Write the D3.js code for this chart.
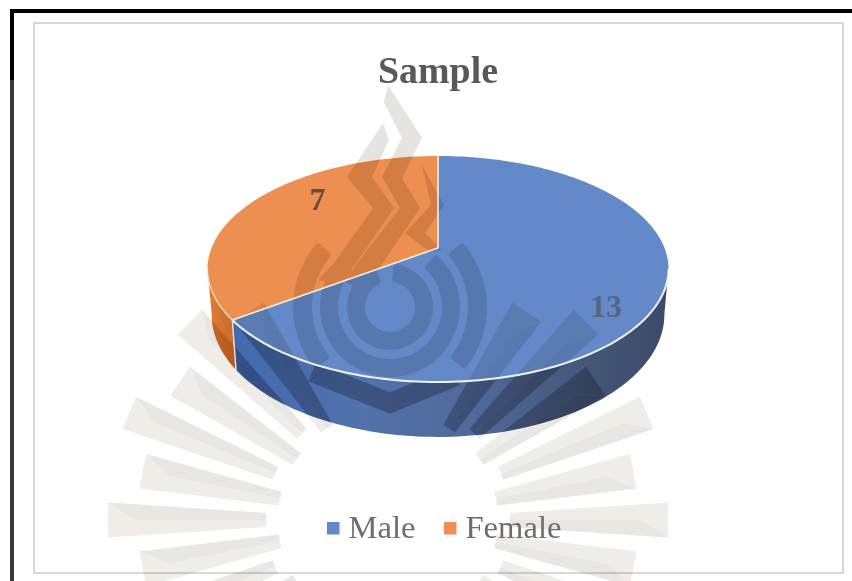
<!DOCTYPE html>
<html>
<head>
<meta charset="utf-8">
<script src="https://cdn.jsdelivr.net/npm/d3@7"></script>
<style>
  html, body { margin: 0; padding: 0; background: #fff; }
  svg { display: block; }
  text { font-family: "Liberation Serif", "Times New Roman", serif; }
</style>
</head>
<body>
<svg id="chart" width="852" height="581"></svg>
<script>
// Chart data
const categories = ["Male", "Female"];
const sampleCounts = [13, 7];
const chartTitle = "Sample";
const topColors = ["#6389c9", "#ec8f51"];

// 3D disc layout: each rim is a circle seen through a perspective divide
const topRim = { cx: 438, cy: 248, a: 226.5, b: 109.1, k: 0.1858 };
const baseRim = { cx: 438, cy: 292, a: 222.4, b: 118, k: 0.1858 };
const silhouette = Math.acos(-topRim.k); // angle where the rim is widest
const labelRadius = [0.83, 0.76];
const labelTurn = [0.15, 0.23];

const svg = d3.select("#chart");
const defs = svg.append("defs");

const project = (rim, t) => {
  const u = Math.sin(t), v = -Math.cos(t), w = 1 - rim.k * v;
  return [rim.cx + rim.a * u / w, rim.cy + rim.b * v / w];
};
const sweep = (rim, from, to) => {
  const n = Math.max(2, Math.ceil(Math.abs(to - from) * 40));
  return d3.range(n + 1).map(i => project(rim, from + (to - from) * i / n));
};
const line = d3.line();
const slices = d3.pie().sort(null).value(d => d)(sampleCounts);
const centre = [topRim.cx, topRim.cy];

const topPath = s => line([centre, ...sweep(topRim, s.startAngle, s.endAngle)]) + "Z";
const wallRanges = [
  [silhouette, slices[0].endAngle],
  [slices[1].startAngle, 2 * Math.PI - silhouette]
];
const wallPath = ([a, b]) => line([...sweep(topRim, a, b), ...sweep(baseRim, b, a)]) + "Z";

// Page frame and chart area border
svg.append("rect").attr("x", 10).attr("y", 9).attr("width", 842).attr("height", 4).attr("fill", "#000");
svg.append("rect").attr("x", 10).attr("y", 9).attr("width", 4).attr("height", 71).attr("fill", "#000");
svg.append("rect").attr("x", 10).attr("y", 80).attr("width", 4).attr("height", 501).attr("fill", "#383838");
svg.append("rect").attr("x", 34).attr("y", 23).attr("width", 809).attr("height", 550)
  .attr("fill", "#fff").attr("stroke", "#d9d9d9").attr("stroke-width", 2);

// Wall shading
const maleWall = defs.append("linearGradient").attr("id", "wallMale")
  .attr("gradientUnits", "userSpaceOnUse").attr("x1", 236).attr("x2", 668).attr("y1", 0).attr("y2", 0);
[[0, "#426ab0"], [0.3, "#5272ab"], [0.55, "#50699a"], [0.8, "#45577a"], [1, "#3c4a68"]]
  .forEach(([o, c]) => maleWall.append("stop").attr("offset", o).attr("stop-color", c));
const femaleWall = defs.append("linearGradient").attr("id", "wallFemale")
  .attr("gradientUnits", "userSpaceOnUse").attr("x1", 207).attr("x2", 236).attr("y1", 0).attr("y2", 0);
[[0, "#de8038"], [1, "#c76a26"]]
  .forEach(([o, c]) => femaleWall.append("stop").attr("offset", o).attr("stop-color", c));
const wallFills = ["url(#wallMale)", "url(#wallFemale)"];

// Disc
const disc = svg.append("g");
disc.selectAll("path.wall").data(wallRanges).join("path").attr("class", "wall")
  .attr("d", wallPath).attr("fill", (d, i) => wallFills[i]);
disc.selectAll("path.top").data(slices).join("path").attr("class", "top")
  .attr("d", topPath).attr("fill", (d, i) => topColors[i]);

// Clip regions used to tint the seal differently on each surface
const clip = (id, d) => defs.append("clipPath").attr("id", id).append("path").attr("d", d);
clip("clipTopMale", topPath(slices[0]));
clip("clipTopFemale", topPath(slices[1]));
clip("clipWallMale", wallPath(wallRanges[0]));
clip("clipWallFemale", wallPath(wallRanges[1]));
clip("clipWalls", wallPath([silhouette, 2 * Math.PI - silhouette]));

// Background seal: fan of rays, ring motif and zigzag flames
const seal = { fanX: 388, fanY: 520, ringX: 390, ringY: 307 };
const rayAngles = d3.range(-5, 6).map(i => i * 11.25);

function drawSeal(host, tint) {
  const pale = tint || "#f0ece7", shade = tint || "#e9e7e3", band = tint || "#e5e4e1";
  const g = host.append("g");
  const rayPoint = (deg, r, off, side) => {
    const t = deg * Math.PI / 180;
    return [
      seal.fanX + side * (r * Math.cos(t) + off * Math.sin(t)),
      seal.fanY - r * Math.sin(t) + off * Math.cos(t)
    ];
  };
  [-1, 1].forEach(side => {
    rayAngles.forEach((deg, i) => {
      const long = (i % 2) === 1;
      const r0 = long ? 122 : 110, r1 = long ? 280 : 250;
      const w0 = 7, w1 = 17.5;
      const a = rayPoint(deg, r0, -w0, side), b = rayPoint(deg, r1, -w1, side);
      const c = rayPoint(deg, r1, w1, side), d = rayPoint(deg, r0, w0, side);
      const m0 = rayPoint(deg, r0, 0, side), m1 = rayPoint(deg, r1 - 26, 0, side);
      const lit = side < 0 ? [m0, m1, b, c, d] : [m0, m1, c, b, a];
      const dim = side < 0 ? [a, b, m1, m0] : [d, c, m1, m0];
      g.append("path").attr("d", line(dim) + "Z").attr("fill", shade);
      g.append("path").attr("d", line(lit) + "Z").attr("fill", pale);
    });
  });

  const arc = d3.arc().cornerRadius(3);
  const rings = [
    { inner: 25, outer: 43, start: 5, end: 340 },
    { inner: 52, outer: 70, start: 41, end: 315 },
    { inner: 78, outer: 97, start: 48, end: 130 },
    { inner: 78, outer: 97, start: 230, end: 312 }
  ];
  rings.forEach(r => {
    g.append("path")
      .attr("transform", `translate(${seal.ringX},${seal.ringY})`)
      .attr("d", arc({
        innerRadius: r.inner, outerRadius: r.outer,
        startAngle: r.start * Math.PI / 180, endAngle: r.end * Math.PI / 180
      }))
      .attr("fill", band);
  });

  // Zigzag flames rising above the rings
  const flames = [
    [[388, 85], [422, 138], [402, 178], [420, 208], [378, 270], [362, 290],
     [345, 282], [358, 262], [400, 208], [382, 177], [402, 138], [384, 102]],
    [[383, 123], [389, 140], [372, 177], [394, 208], [355, 265], [336, 284],
     [318, 280], [335, 262], [373, 208], [347, 177]],
    [[422, 165], [444, 205], [425, 233], [442, 250], [430, 252], [405, 233], [431, 205]]
  ];
  flames.forEach(f => {
    g.append("path").attr("d", line(f) + "Z").attr("fill", band);
  });

  // Chevron beneath the rings, only seen across the disc wall
  const chevron = g.append("g").attr("clip-path", "url(#clipWalls)");
  chevron.append("path").attr("d", line([[312, 372], [390, 403], [456, 376]]))
    .attr("fill", "none").attr("stroke", band).attr("stroke-width", 20);
  return g;
}

const sealLayer = svg.append("g");
const blended = (clipId, tint) => {
  const holder = sealLayer.append("g").style("mix-blend-mode", "multiply");
  if (clipId) holder.attr("clip-path", `url(#${clipId})`);
  drawSeal(holder, tint);
};
blended(null, null);
blended("clipTopMale", "#f7f8fb");
blended("clipTopFemale", "#fff9e8");
blended("clipWallMale", "#d0d2d9");
blended("clipWallFemale", "#f8ead8");

// Highlights along the slice edges and front rim
const edges = svg.append("g").attr("fill", "none");
edges.append("path").attr("d", line(sweep(topRim, silhouette, slices[0].endAngle)))
  .attr("stroke", "#eef4fa").attr("stroke-width", 2);
edges.append("path").attr("d", line(sweep(topRim, slices[1].startAngle, 2 * Math.PI - silhouette)))
  .attr("stroke", "#fbe6d6").attr("stroke-width", 1.2);
const spoke = project(topRim, slices[0].endAngle);
const spokeBase = project(baseRim, slices[0].endAngle);
edges.append("path").attr("d", line([project(topRim, 0), centre, spoke]))
  .attr("stroke", "#fdf3ea").attr("stroke-width", 1.6).attr("stroke-linejoin", "miter");
edges.append("path").attr("d", line([spoke, spokeBase]))
  .attr("stroke", "#f3e6dc").attr("stroke-width", 1.4);

// Title
svg.append("text").attr("x", 438).attr("y", 83).attr("text-anchor", "middle")
  .attr("font-size", 37.9).attr("font-weight", 700).attr("fill", "#595959").text(chartTitle);

// Slice value labels
svg.append("g").selectAll("text").data(slices).join("text")
  .attr("transform", (d, i) => {
    const t = (d.startAngle + d.endAngle) / 2 + labelTurn[i];
    const u = Math.sin(t) * labelRadius[i], v = -Math.cos(t) * labelRadius[i];
    const w = 1 - topRim.k * v;
    return `translate(${topRim.cx + topRim.a * u / w},${topRim.cy + topRim.b * v / w})`;
  })
  .attr("dy", "0.34em").attr("text-anchor", "middle")
  .attr("font-size", 32).attr("font-weight", 700)
  .attr("fill", (d, i) => ["#56657f", "#6b4c3c"][i])
  .text(d => d.value);

// Legend
const legendKeyX = d3.scaleOrdinal().domain(categories).range([327, 444]);
const legend = svg.append("g").selectAll("g").data(categories).join("g")
  .attr("transform", d => `translate(${legendKeyX(d)},522)`);
legend.append("rect").attr("width", 12.5).attr("height", 12.5)
  .attr("fill", (d, i) => topColors[i]);
legend.append("text").attr("x", 21.5).attr("y", 16)
  .attr("font-size", 32.6).attr("fill", "#6e6e6e").text(d => d);
</script>
</body>
</html>
